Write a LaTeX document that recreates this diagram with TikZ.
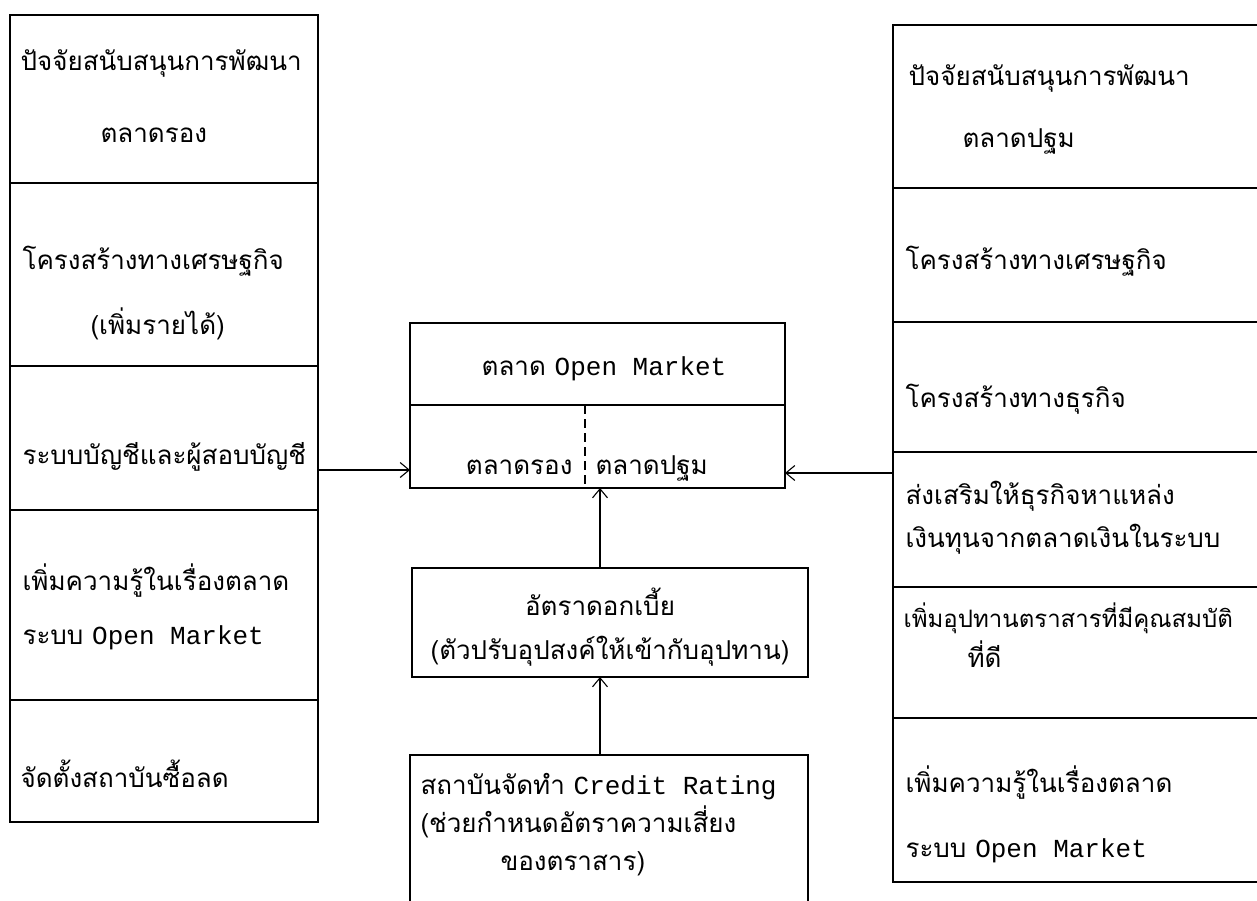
\documentclass[tikz,border=0pt]{standalone}
\usepackage{fontspec}
\newfontfamily\thaifont[Script=Thai]{Loma}
\newfontfamily\typefont{Liberation Mono}
\usetikzlibrary{positioning, calc, arrows, arrows.meta}
\tikzset{cell/.style={draw, anchor=north west, inner sep=0pt, outer sep=0pt}}
\tikzset{txt/.style={anchor=base west, inner sep=0pt, font=\thaifont\fontsize{26}{30}\selectfont}}

\begin{document}
\begin{tikzpicture}[x=1pt, y=-1pt, line width=1.1pt, >={Straight Barb[length=9pt, width=15pt]}]

      \useasboundingbox (0,0) rectangle (1257,900);

      % LEFT COLUMN

      \node[cell, minimum width=308, minimum height=168] (l1) at (10,15) {};
      \node[cell, minimum width=308, minimum height=183] (l2) at (l1.south west) {};
      \node[cell, minimum width=308, minimum height=144] (l3) at (l2.south west) {};
      \node[cell, minimum width=308, minimum height=190] (l4) at (l3.south west) {};
      \node[cell, minimum width=308, minimum height=122] (l5) at (l4.south west) {};

      % RIGHT COLUMN

      \node[cell, minimum width=370, minimum height=163] (r1) at (893,25) {};
      \node[cell, minimum width=370, minimum height=134] (r2) at (r1.south west) {};
      \node[cell, minimum width=370, minimum height=130] (r3) at (r2.south west) {};
      \node[cell, minimum width=370, minimum height=135] (r4) at (r3.south west) {};
      \node[cell, minimum width=370, minimum height=131] (r5) at (r4.south west) {};
      \node[cell, minimum width=370, minimum height=164] (r6) at (r5.south west) {};

      % MIDDLE

      \node[cell, minimum width=375, minimum height=82] (mkt) at (410,323) {};
      \node[cell, draw=none, minimum width=175, minimum height=83] (sec) at (mkt.south west) {};
      \node[cell, draw=none, minimum width=200, minimum height=83] (pri) at (sec.north east) {};
      \draw (sec.north west) -- (sec.south west) -- (pri.south east) -- (pri.north east);
      \draw[dash pattern=on 9pt off 5pt] (sec.north east) -- (sec.south east);

      \node[cell, minimum width=396, minimum height=109] (rate) at (412,568) {};
      \node[cell, minimum width=398, minimum height=160] (cr) at (410,755) {};

      % LABELS

      \node[txt] (l1a) at ($(l1.north west)+(10,55)$) {ปัจจัยสนับสนุนการพัฒนา};
      \node[txt] (l1b) at ($(l1.north west)+(90,127)$) {ตลาดรอง};
      \node[txt] (l2a) at ($(l2.north west)+(12,86)$) {โครงสร้างทางเศรษฐกิจ};
      \node[txt] (l2b) at ($(l2.north west)+(80,151)$) {(เพิ่มรายได้)};
      \node[txt] (l3a) at ($(l3.north west)+(12,98)$) {ระบบบัญชีและผู้สอบบัญชี};
      \node[txt] (l4a) at ($(l4.north west)+(12,80)$) {เพิ่มความรู้ในเรื่องตลาด};
      \node[txt] (l4b) at ($(l4.north west)+(12,134)$) {ระบบ {\typefont Open Market}};
      \node[txt] (l5a) at ($(l5.north west)+(10,87)$) {จัดตั้งสถาบันซื้อลด};

      \node[txt] (r1a) at ($(r1.north west)+(15,60)$) {ปัจจัยสนับสนุนการพัฒนา};
      \node[txt] (r1b) at ($(r1.north west)+(69,122)$) {ตลาดปฐม};
      \node[txt] (r2a) at ($(r2.north west)+(12,81)$) {โครงสร้างทางเศรษฐกิจ};
      \node[txt] (r3a) at ($(r3.north west)+(12,85)$) {โครงสร้างทางธุรกิจ};
      \node[txt] (r4a) at ($(r4.north west)+(12,52)$) {ส่งเสริมให้ธุรกิจหาแหล่ง};
      \node[txt] (r4b) at ($(r4.north west)+(12,95)$) {เงินทุนจากตลาดเงินในระบบ};
      \node[txt, font=\thaifont\fontsize{24}{28}\selectfont] (r5a) at ($(r5.north west)+(10,40)$) {เพิ่มอุปทานตราสารที่มีคุณสมบัติ};
      \node[txt] (r5b) at ($(r5.north west)+(74,80)$) {ที่ดี};
      \node[txt] (r6a) at ($(r6.north west)+(12,74)$) {เพิ่มความรู้ในเรื่องตลาด};
      \node[txt] (r6b) at ($(r6.north west)+(12,139)$) {ระบบ {\typefont Open Market}};

      \node[txt, anchor=base] (mkta) at ($(mkt.north west)+(194,52)$) {ตลาด {\typefont Open Market}};
      \node[txt, anchor=base east] (seca) at ($(sec.south east)+(-12,-14)$) {ตลาดรอง};
      \node[txt] (pria) at ($(pri.south west)+(10,-14)$) {ตลาดปฐม};

      \node[txt, anchor=base] (ratea) at ($(rate.north)+(-10,47)$) {อัตราดอกเบี้ย};
      \node[txt, anchor=base] (rateb) at ($(rate.north)+(0,91)$) {(ตัวปรับอุปสงค์ให้เข้ากับอุปทาน)};

      \node[txt] (cra) at ($(cr.north west)+(10,39)$) {สถาบันจัดทำ {\typefont Credit Rating}};
      \node[txt] (crb) at ($(cr.north west)+(10,77)$) {(ช่วยกำหนดอัตราความเสี่ยง};
      \node[txt] (crc) at ($(cr.north west)+(90,115)$) {ของตราสาร)};

      % ARROWS

      \draw[->] ($(l3.east)+(0,32)$) -- ($(sec.west)+(0,23.5)$);
      \draw[->] ($(r4.west)+(0,-46.5)$) -- ($(pri.east)+(0,26.5)$);
      \draw[->] ($(rate.north)+(-10,0)$) -- ($(pri.south west)+(15,0)$);
      \draw[->] ($(cr.north)+(-9,0)$) -- ($(rate.south)+(-10,0)$);

\end{tikzpicture}
\end{document}
